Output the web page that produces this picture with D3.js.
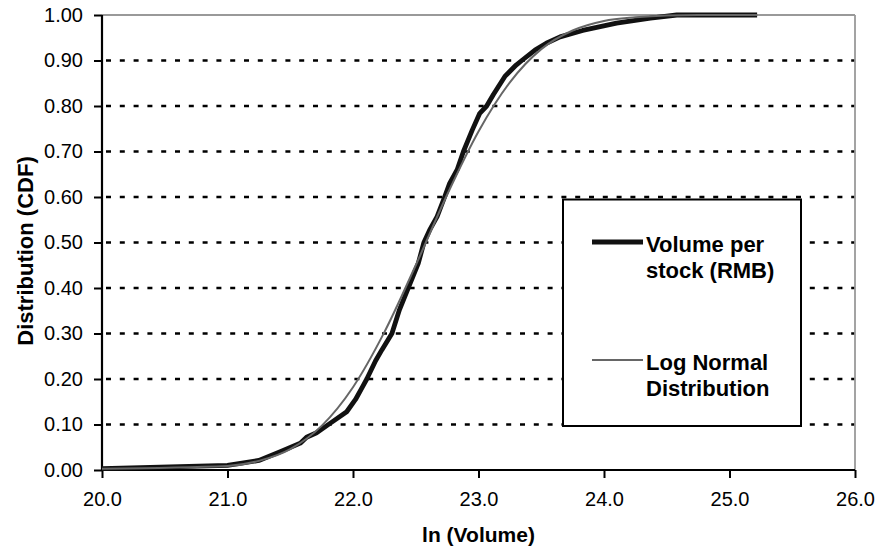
<!DOCTYPE html>
<html>
<head>
<meta charset="utf-8">
<script src="https://cdn.jsdelivr.net/npm/d3@7"></script>
<style>
  body { margin: 0; background: #fff; }
  text { font-family: "Liberation Sans", Arial, sans-serif; }
</style>
</head>
<body>
<svg id="chart" width="877" height="549"></svg>
<script>
const volumeX = [20.00, 21.00, 21.25, 21.42, 21.58, 21.63, 21.71, 21.82, 21.95, 22.02, 22.08, 22.11, 22.18, 22.23, 22.31, 22.37, 22.44, 22.52, 22.565, 22.61, 22.67, 22.73, 22.77, 22.83, 22.88, 22.95, 23.01, 23.065, 23.12, 23.21, 23.30, 23.345, 23.45, 23.54, 23.65, 23.83, 24.10, 24.37, 24.58, 25.22];
const volumeCDF = [0.003, 0.010, 0.021, 0.040, 0.059, 0.072, 0.082, 0.103, 0.128, 0.155, 0.185, 0.200, 0.240, 0.264, 0.300, 0.352, 0.400, 0.454, 0.500, 0.527, 0.557, 0.600, 0.630, 0.660, 0.700, 0.747, 0.784, 0.800, 0.826, 0.865, 0.890, 0.900, 0.923, 0.938, 0.952, 0.966, 0.982, 0.993, 1.000, 1.000];
// Log normal fit
const logNormX = [20.00, 21.00, 21.25, 21.50, 21.75, 22.00, 22.25, 22.50, 22.75, 23.00, 23.25, 23.50, 23.75, 24.00, 24.25, 24.50, 24.75, 25.22];
const logNormCDF = [0.003, 0.009, 0.020, 0.046, 0.097, 0.182, 0.303, 0.450, 0.605, 0.744, 0.852, 0.925, 0.966, 0.987, 0.995, 0.999, 1.000, 1.000];
const xTicks = [20, 21, 22, 23, 24, 25, 26];
const yTicks = [0, 0.1, 0.2, 0.3, 0.4, 0.5, 0.6, 0.7, 0.8, 0.9, 1.0];
const legendLabels = [["Volume per", "stock (RMB)"], ["Log Normal", "Distribution"]];

const svg = d3.select("#chart");
const L = 102, R = 855, T = 15, B = 470;
const x = d3.scaleLinear().domain([20, 26]).range([L, R]);
const y = d3.scaleLinear().domain([0, 1]).range([B, T]);

// gridlines
svg.append("g").selectAll("line").data(yTicks.filter(d => d > 0 && d < 1)).join("line")
  .attr("x1", L + 4).attr("x2", R).attr("y1", d => y(d)).attr("y2", d => y(d))
  .attr("stroke", "#000").attr("stroke-width", 2.6).attr("stroke-dasharray", "5,8.8");

// top & right border (gray)
svg.append("line").attr("x1", L).attr("x2", R).attr("y1", T).attr("y2", T)
  .attr("stroke", "#999").attr("stroke-width", 1.8);
svg.append("line").attr("x1", R).attr("x2", R).attr("y1", T).attr("y2", B)
  .attr("stroke", "#999").attr("stroke-width", 1.8);

// axes
const xAxis = d3.axisBottom(x).tickValues(xTicks).tickFormat(d3.format(".1f")).tickSize(8).tickPadding(14);
const yAxis = d3.axisLeft(y).tickValues(yTicks).tickFormat(d3.format(".2f")).tickSize(8).tickPadding(11);
const gx = svg.append("g").attr("transform", `translate(0,${B})`).call(xAxis);
const gy = svg.append("g").attr("transform", `translate(${L},0)`).call(yAxis);
[gx, gy].forEach(g => {
  g.select(".domain").attr("stroke", "#000").attr("stroke-width", 2.2);
  g.selectAll(".tick line").attr("stroke", "#000").attr("stroke-width", 2);
  g.selectAll(".tick text").attr("fill", "#000").style("font-size", "20px")
    .style("font-family", "'Liberation Sans', Arial, sans-serif");
});
gy.select(".domain").attr("d", `M0,${B}V${T}`);
gx.select(".domain").attr("d", `M${L},0H${R}`);

// lines
const line = d3.line().x(d => x(d[0])).y(d => y(d[1]));
const volData = volumeX.map((v, i) => [v, volumeCDF[i]]);
const lnData = logNormX.map((v, i) => [v, logNormCDF[i]]);
svg.append("path").datum(volData).attr("d", line)
  .attr("fill", "none").attr("stroke", "#111").attr("stroke-width", 4.8).attr("stroke-linejoin", "round");
svg.append("path").datum(lnData).attr("d", line.curve(d3.curveMonotoneX))
  .attr("fill", "none").attr("stroke", "#666").attr("stroke-width", 2).attr("stroke-linejoin", "round");

// legend
const lg = svg.append("g");
lg.append("rect").attr("x", 563).attr("y", 199.5).attr("width", 238).attr("height", 226.5)
  .attr("fill", "#fff").attr("stroke", "#000").attr("stroke-width", 2);
const items = [{ y: 242, color: "#111", w: 4.8 }, { y: 360, color: "#666", w: 2 }];
items.forEach((it, i) => {
  lg.append("line").attr("x1", 592).attr("x2", 643).attr("y1", it.y).attr("y2", it.y)
    .attr("stroke", it.color).attr("stroke-width", it.w);
  const t = lg.append("text").attr("x", 646).attr("y", it.y + 10)
    .style("font-size", "22px").style("font-weight", "bold").attr("fill", "#000");
  legendLabels[i].forEach((s, j) => {
    t.append("tspan").attr("x", 646).attr("dy", j === 0 ? 0 : 26).text(s);
  });
});

// axis titles
svg.append("text").attr("x", (L + R) / 2).attr("y", 542).attr("text-anchor", "middle")
  .style("font-size", "21px").style("font-weight", "bold").text("ln (Volume)");
svg.append("text").attr("transform", "translate(33,251) rotate(-90)").attr("text-anchor", "middle")
  .style("font-size", "22px").style("font-weight", "bold").text("Distribution (CDF)");
</script>
</body>
</html>
